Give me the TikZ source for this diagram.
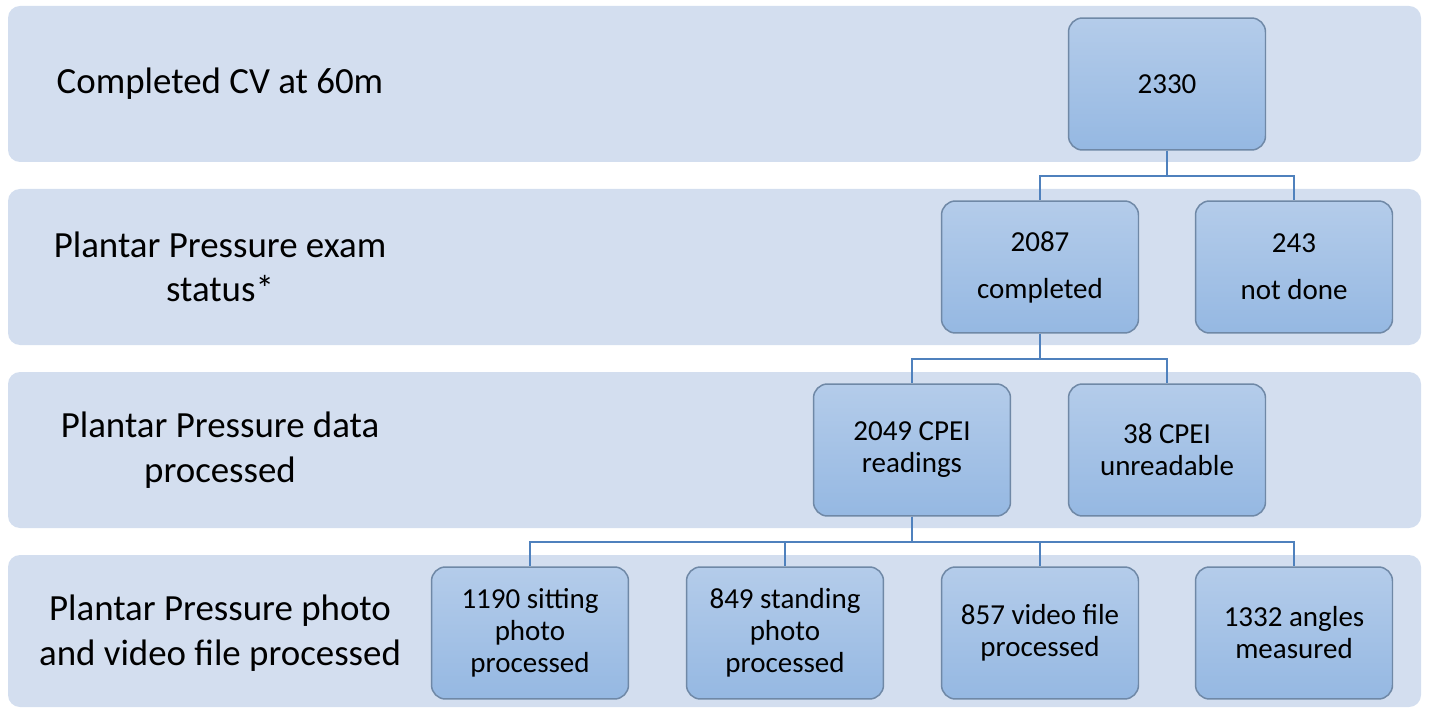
\documentclass[tikz,border=0pt]{standalone}
\usepackage{fontspec}
\setmainfont{Carlito}
\definecolor{bandblue}{HTML}{D3DEEF}
\definecolor{boxtop}{HTML}{B4CCEA}
\definecolor{boxbottom}{HTML}{95B8E2}
\definecolor{boxedge}{HTML}{6F88A6}
\definecolor{linkblue}{HTML}{4F81BD}
\newcommand{\rowfont}{\fontsize{21}{25.3}\selectfont}
\newcommand{\boxfont}{\fontsize{16.5}{18.2}\selectfont}
\tikzset{
    band/.style={fill=bandblue, rounded corners=0.24cm},
    rowlabel/.style={align=center, font=\rowfont, inner sep=0pt},
    countbox/.style={draw=boxedge, line width=0.85pt, rounded corners=0.28cm,
        top color=boxtop, bottom color=boxbottom, minimum width=3.94cm,
        minimum height=2.64cm, align=center, font=\boxfont, inner sep=2pt},
    link/.style={draw=linkblue, line width=1.4pt},
}
\begin{document}
\begin{tikzpicture}[x=0.02cm,y=-0.02cm]
        \useasboundingbox (0,0) rectangle (1429,709);
        % background rows
        \foreach \t/\b in {6/162, 189/345, 372/528, 555/707}{
            \fill[band] (8,\t) rectangle (1421,\b);
        }
        % row labels
        \node[rowlabel] (row1) at (220,84) {Completed CV at 60m};
        \node[rowlabel] (row2) at (220,267) {Plantar Pressure exam\\status*};
        \node[rowlabel] (row3) at (220,450) {Plantar Pressure data\\processed};
        \node[rowlabel] (row4) at (220,633) {Plantar Pressure photo\\and video file processed};
        % counts
        \node[countbox] (cv) at (1167,84) {2330};
        \node[countbox] (done) at (1040,267) {2087\\[0.3cm]completed};
        \node[countbox] (notdone) at (1294,267) {243\\[0.3cm]not done};
        \node[countbox] (readings) at (912,450) {2049 CPEI\\readings};
        \node[countbox] (unread) at (1167,450) {38 CPEI\\unreadable};
        \node[countbox] (sitting) at (530,633) {1190 sitting\\photo\\processed};
        \node[countbox] (standing) at (785,633) {849 standing\\photo\\processed};
        \node[countbox] (video) at (1040,633) {857 video file\\processed};
        \node[countbox] (angles) at (1294,633) {1332 angles\\measured};
        % connectors
        \foreach \p/\c in {cv/done, cv/notdone, done/readings, done/unread,
                readings/sitting, readings/standing, readings/video, readings/angles}{
            \draw[link] (\p.south) -- ++(0,25.5) -| (\c.north);
        }
    \end{tikzpicture}
\end{document}
